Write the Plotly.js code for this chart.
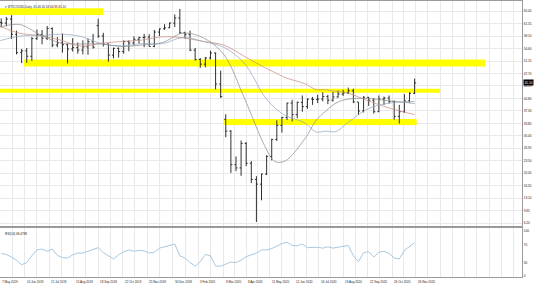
<!DOCTYPE html>
<html><head><meta charset="utf-8">
<script src="https://cdn.plot.ly/plotly-3.0.1.min.js"></script>
<style>html,body{margin:0;padding:0;background:#fff}#chart{width:536px;height:284px}</style>
</head><body><div id="chart"></div>
<script>
// Weekly bars (week starting Monday)
const weeks = ["2019-05-06","2019-05-13","2019-05-20","2019-05-27","2019-06-03","2019-06-10","2019-06-17","2019-06-24","2019-07-01","2019-07-08",
"2019-07-15","2019-07-22","2019-07-29","2019-08-05","2019-08-12","2019-08-19","2019-08-26","2019-09-02","2019-09-09","2019-09-16",
"2019-09-23","2019-09-30","2019-10-07","2019-10-14","2019-10-21","2019-10-28","2019-11-04","2019-11-11","2019-11-18","2019-11-25",
"2019-12-02","2019-12-09","2019-12-16","2019-12-23","2019-12-30","2020-01-06","2020-01-13","2020-01-20","2020-01-27","2020-02-03",
"2020-02-10","2020-02-17","2020-02-24","2020-03-02","2020-03-09","2020-03-16","2020-03-23","2020-03-30","2020-04-06","2020-04-13",
"2020-04-20","2020-04-27","2020-05-04","2020-05-11","2020-05-18","2020-05-25","2020-06-01","2020-06-08","2020-06-15","2020-06-22",
"2020-06-29","2020-07-06","2020-07-13","2020-07-20","2020-07-27","2020-08-03","2020-08-10","2020-08-17","2020-08-24","2020-08-31",
"2020-09-07","2020-09-14","2020-09-21","2020-09-28","2020-10-05","2020-10-12","2020-10-19","2020-10-26","2020-11-02","2020-11-09",
"2020-11-16","2020-11-23"];
const open = [61.9,61.7,62.8,58.6,53.5,54.0,52.5,57.4,58.5,57.5,
60.2,55.6,56.2,55.7,54.5,54.9,54.2,55.1,56.5,61.0,
58.1,55.9,52.8,54.7,53.8,56.6,56.2,57.2,57.7,57.8,
55.2,59.2,60.1,60.4,61.7,63.1,59.0,58.5,54.2,51.6,
50.3,52.0,53.4,44.8,35.0,31.7,22.4,21.5,28.3,22.8,
18.3,17.0,19.8,24.7,29.4,33.3,35.5,39.5,36.3,39.7,
38.5,40.6,40.5,40.6,41.3,40.3,41.2,42.0,42.3,42.9,
39.8,37.3,41.1,40.3,37.1,40.6,40.9,39.9,35.8,37.1,
40.1,42.2];
const high = [63.0,63.4,63.9,59.6,54.5,54.8,57.8,59.9,59.8,60.9,
60.5,57.8,58.8,56.0,57.5,56.3,56.9,57.4,58.7,62.9,
59.0,56.0,54.9,54.9,56.9,56.9,58.0,57.9,58.7,58.6,
59.8,60.2,61.4,61.9,64.1,65.6,59.3,59.6,54.8,52.0,
52.3,54.0,53.5,48.5,36.4,32.0,24.7,29.1,28.7,23.4,
19.2,19.9,25.0,29.6,34.7,35.7,39.6,40.4,39.9,41.6,
40.8,41.2,41.8,42.5,41.8,42.6,43.0,43.2,43.8,43.5,
39.8,41.4,41.2,40.9,41.6,41.3,41.6,40.2,39.0,42.0,
42.5,46.3];
const low = [60.6,60.8,57.3,53.0,50.6,50.7,51.2,57.0,55.8,57.0,
55.0,55.0,53.5,50.5,53.8,53.2,53.0,52.9,54.6,57.6,
55.2,51.0,51.9,52.1,53.2,53.9,55.5,56.0,55.0,55.2,
55.0,58.1,59.8,60.3,60.6,58.7,57.4,53.9,51.3,49.3,
49.4,51.6,43.3,40.9,30.0,20.1,20.6,19.3,22.0,17.3,
6.5,12.5,19.5,23.6,29.0,31.3,34.8,34.4,35.3,37.1,
37.9,39.0,39.5,40.0,39.2,39.9,41.0,41.5,42.0,39.5,
36.2,36.9,38.7,36.6,37.0,39.0,39.4,34.9,33.8,36.8,
39.6,42.0];
const close = [61.7,62.8,58.6,53.5,54.0,52.5,57.4,58.5,57.5,60.2,
55.6,56.2,55.7,54.5,54.9,54.2,55.1,56.5,55.0,58.1,
55.9,52.8,54.7,53.8,56.6,56.2,57.2,57.7,57.8,55.2,
59.2,60.1,60.4,61.7,63.1,59.0,58.5,54.2,51.6,50.3,
52.0,53.4,44.8,41.3,31.7,22.4,21.5,28.3,22.8,18.3,
17.0,19.8,24.7,29.4,33.3,35.5,39.5,36.3,39.7,38.5,
40.6,40.5,40.6,41.3,40.3,41.2,42.0,42.3,42.9,39.8,
37.3,41.1,40.3,37.1,40.6,40.9,39.9,35.8,37.1,40.1,
42.2,45.1];
const rsi = [50,48,42,35,25,30,45,58,60,55,
60,46,41,40,47,51,51,55,60,63,
52,44,38,47,54,58,55,57,56,51,
53,62,65,67,71,45,40,30,22,32,
48,45,22,22,27,31,30,35,43,47,
51,58,58,61,67,72,75,68,67,71,
63,64,64,62,65,62,64,66,68,45,
32,52,54,42,53,55,50,40,38,57,
65,74];

// Moving averages read at sparse dates
const maDates = ["2019-05-07","2019-06-03","2019-07-01","2019-07-29","2019-08-26","2019-09-23","2019-10-21","2019-11-18","2019-12-16","2020-01-13",
"2020-02-10","2020-03-09","2020-04-06","2020-05-04","2020-05-18","2020-06-01","2020-06-29","2020-07-13","2020-07-27","2020-08-10",
"2020-08-24","2020-09-21","2020-10-19","2020-11-25"];
const sma50  = [60.6,61.3,58.5,56.2,55.9,55.9,55.2,55.6,56.3,58.9,57.6,53.0,41.0,27.7,23.3,23.4,29.8,34.5,37.3,39.5,40.5,40.8,40.2,39.4];
const sma100 = [56.8,58.1,58.2,58.6,58.0,56.0,55.4,56.0,56.0,57.7,56.6,55.0,50.6,41.3,38.2,36.1,33.9,31.5,31.7,31.6,33.7,37.7,39.4,40.0];
const sma200 = [60.8,58.9,58.2,57.0,55.3,56.1,56.6,57.0,57.9,57.6,56.6,55.6,52.5,49.4,48.0,46.6,44.8,43.3,43.2,42.7,42.4,40.3,38.3,36.3];

// Axis labels
const labelDates = ["2019-05-07","2019-06-10","2019-07-12","2019-08-15","2019-09-18","2019-10-22","2019-11-25","2019-12-30","2020-02-03","2020-03-09","2020-04-08","2020-05-11","2020-06-12","2020-07-16","2020-08-19","2020-09-22","2020-10-26","2020-11-26"];
const labelTexts = ["7 May 2019","10 Jun 2019","12 Jul 2019","15 Aug 2019","18 Sep 2019","22 Oct 2019","25 Nov 2019","30 Dec 2019","3 Feb 2020","9 Mar 2020","8 Apr 2020","11 May 2020","12 Jun 2020","16 Jul 2020","19 Aug 2020","22 Sep 2020","26 Oct 2020","26 Nov 2020"];
const yTicks = [65.05,61.55,58.10,54.60,51.15,47.70,44.25,40.80,37.30,33.85,30.40,26.95,23.50,20.05,16.55,13.10,9.65,6.20];
const rsiTicks = [0,30,70,100];

// Highlighted zones
const zoneStart = ["2019-05-06","2019-06-07","2019-05-06","2020-03-09"];
const zoneEnd   = ["2019-09-25","2021-03-02","2020-12-30","2020-11-27"];
const zoneLow   = [63.95,49.65,42.37,33.41];
const zoneHigh  = [65.8,51.6,43.48,35.07];

// trading-day index (weekdays since 7 May 2019)
function td(s){
  const d = Date.parse(s+"T00:00:00Z"), base = Date.UTC(2019,4,7);
  const days = Math.round((d-base)/864e5);
  const w = Math.floor(days/7); let rem = days - w*7, n = w*5, dow = 2;
  for(let i=0;i<rem;i++){ dow=(dow+1)%7; if(dow!==0 && dow!==6) n++; }
  return n;
}
const xs = weeks.map(d=>td(d)+2);
const maX = maDates.map(td);
const labelIdx = labelDates.map(td);
const gridVals=[];
for(let i=0;i<labelIdx.length;i++){
  gridVals.push(labelIdx[i]);
  if(i<labelIdx.length-1) gridVals.push((labelIdx[i]+labelIdx[i+1])/2);
}
for(let g=labelIdx[labelIdx.length-1]+12; g<515; g+=12) gridVals.push(g);

const XR = [-0.2, 511.2];
const GRID = "#e9e9e9", LINE = "#9a9a9a";
const FONT = "Liberation Sans, Arial, sans-serif";

const traces = [
  {type:"scatter", mode:"lines", x:maX, y:sma200, line:{color:"#c48a7c", width:0.7, shape:"spline"}, hoverinfo:"skip"},
  {type:"scatter", mode:"lines", x:maX, y:sma100, line:{color:"#8ea4bd", width:0.7, shape:"spline"}, hoverinfo:"skip"},
  {type:"scatter", mode:"lines", x:maX, y:sma50, line:{color:"#8a8a8a", width:0.7, shape:"spline"}, hoverinfo:"skip"},
  {type:"ohlc", x:xs, open:open, high:high, low:low, close:close, tickwidth:0.3,
   increasing:{line:{color:"#1a1a1a", width:0.9}},
   decreasing:{line:{color:"#1a1a1a", width:0.9}},
   hoverinfo:"skip"},
  {type:"scatter", mode:"lines", x:xs, y:rsi, xaxis:"x2", yaxis:"y2", line:{color:"#93bad6", width:0.8}, hoverinfo:"skip"}
];

const shapes = zoneStart.map((s,i)=>({type:"rect", xref:"x", yref:"y", x0:td(s), x1:td(zoneEnd[i]), y0:zoneLow[i], y1:zoneHigh[i], fillcolor:"#ffff00", line:{width:0}, layer:"between"}));

const last = close[close.length-1];
const dateLabels = labelIdx.map((v,i)=>({xref:"x2", yref:"paper", x:v, y:0, xanchor:"left", yanchor:"top", yshift:-1, showarrow:false,
  text:labelTexts[i], font:{size:3, color:"#222"}}));
const layout = {
  width:536, height:284, margin:{l:0, r:14, t:1, b:7},
  paper_bgcolor:"#fff", plot_bgcolor:"#fff", showlegend:false,
  font:{family:FONT, size:3, color:"#222"},
  xaxis:{type:"linear", range:XR, domain:[0,1], anchor:"y", rangeslider:{visible:false}, tickvals:gridVals, showticklabels:false,
         showgrid:true, gridcolor:GRID, gridwidth:1, zeroline:false, showline:true, mirror:true, linecolor:LINE, linewidth:1, ticks:""},
  yaxis:{domain:[0.1848,1], range:[5.38,67.83], side:"right", tickvals:yTicks, ticktext:yTicks.map(v=>v.toFixed(2)), tickfont:{size:3.2, color:"#222"},
         showgrid:true, gridcolor:GRID, gridwidth:1, zeroline:false, showline:true, mirror:true, linecolor:LINE, linewidth:1, ticks:""},
  xaxis2:{type:"linear", range:XR, domain:[0,1], anchor:"y2", tickvals:gridVals, showticklabels:false,
          showgrid:true, gridcolor:GRID, gridwidth:1, zeroline:false, showline:true, mirror:true, linecolor:LINE, linewidth:1, ticks:""},
  yaxis2:{domain:[0,0.1775], range:[-2.2,106.7], side:"right", anchor:"x2", tickvals:rsiTicks, ticktext:rsiTicks.map(String), tickfont:{size:3.2, color:"#222"},
          showgrid:false, zeroline:false, showline:true, mirror:true, linecolor:LINE, linewidth:1, ticks:""},
  shapes:shapes,
  annotations:[
    {xref:"paper", yref:"paper", x:0.005, y:1, xanchor:"left", yanchor:"top", yshift:-1.5, showarrow:false,
     text:"▾ WTICOUSD,Daily  45.46 45.58 44.93 "+last.toFixed(2), font:{size:3, color:"#222"}},
    {xref:"paper", yref:"paper", x:0.005, y:0.1775, xanchor:"left", yanchor:"top", yshift:-1.5, showarrow:false,
     text:"RSI(14) 69.4788", font:{size:3, color:"#222"}},
    {xref:"paper", yref:"y", x:1, y:last, xanchor:"left", yanchor:"middle", xshift:1, showarrow:false,
     text:last.toFixed(2), bgcolor:"#000", borderpad:0.6, font:{size:3.2, color:"#fff"}}
  ].concat(dateLabels)
};
Plotly.newPlot("chart", traces, layout, {staticPlot:true, displayModeBar:false});
</script></body></html>
